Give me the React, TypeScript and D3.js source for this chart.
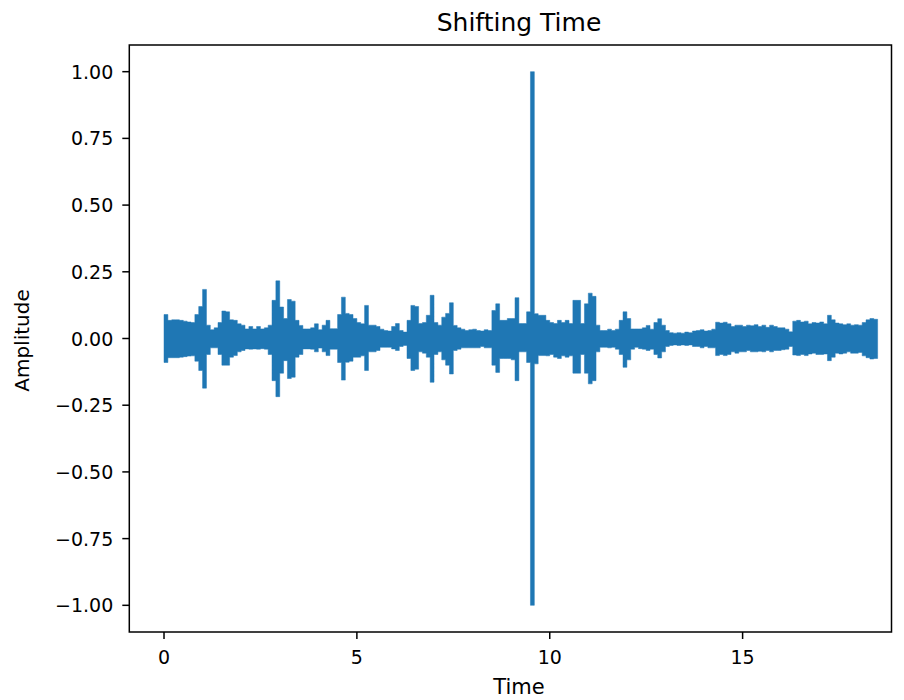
import React from "react";
import * as d3 from "d3";

// Waveform envelope, sampled every 0.1 s from t = 0 to t = 18.5 s
const sampleStep = 0.1;
const upper = [
  0.09, 0.068, 0.07, 0.07, 0.068, 0.065, 0.062, 0.06, 0.09, 0.12,
  0.184, 0.05, 0.033, 0.04, 0.06, 0.103, 0.1, 0.07, 0.068, 0.055,
  0.05, 0.036, 0.045, 0.036, 0.045, 0.036, 0.04, 0.05, 0.143, 0.216,
  0.118, 0.075, 0.146, 0.14, 0.068, 0.049, 0.036, 0.036, 0.04, 0.055,
  0.033, 0.05, 0.068, 0.037, 0.037, 0.09, 0.155, 0.094, 0.09, 0.075,
  0.06, 0.055, 0.124, 0.05, 0.05, 0.045, 0.035, 0.03, 0.028, 0.045,
  0.056, 0.03, 0.024, 0.068, 0.124, 0.12, 0.056, 0.06, 0.087, 0.162,
  0.06, 0.05, 0.08, 0.094, 0.134, 0.049, 0.04, 0.035, 0.03, 0.033,
  0.035, 0.03, 0.028, 0.033, 0.03, 0.105, 0.13, 0.068, 0.068, 0.075,
  0.075, 0.153, 0.056, 0.056, 0.1, 1.0, 0.093, 0.087, 0.087, 0.068,
  0.06, 0.056, 0.068, 0.06, 0.068, 0.056, 0.143, 0.143, 0.056, 0.13,
  0.17, 0.158, 0.05, 0.03, 0.03, 0.035, 0.03, 0.035, 0.068, 0.1,
  0.075, 0.036, 0.036, 0.036, 0.04, 0.049, 0.035, 0.06, 0.074, 0.05,
  0.03, 0.022, 0.02, 0.022, 0.02, 0.024, 0.022, 0.028, 0.03, 0.033,
  0.028, 0.03, 0.035, 0.061, 0.058, 0.061, 0.055, 0.045, 0.05, 0.05,
  0.045, 0.05, 0.048, 0.052, 0.045, 0.05, 0.042, 0.05, 0.045, 0.04,
  0.04, 0.035, 0.025, 0.065, 0.068, 0.062, 0.065, 0.055, 0.06, 0.058,
  0.062, 0.055, 0.087, 0.07, 0.058, 0.055, 0.052, 0.055, 0.05, 0.052,
  0.05, 0.06, 0.07, 0.075, 0.072, 0.06,
];
const lower = [
  -0.09, -0.072, -0.072, -0.072, -0.07, -0.068, -0.066, -0.065, -0.085, -0.12,
  -0.186, -0.06, -0.035, -0.035, -0.06, -0.1, -0.1, -0.07, -0.064, -0.05,
  -0.045, -0.039, -0.04, -0.039, -0.04, -0.038, -0.04, -0.06, -0.158, -0.218,
  -0.13, -0.083, -0.15, -0.145, -0.07, -0.06, -0.039, -0.039, -0.04, -0.05,
  -0.036, -0.05, -0.064, -0.04, -0.04, -0.09, -0.156, -0.089, -0.085, -0.07,
  -0.07, -0.065, -0.12, -0.05, -0.05, -0.045, -0.033, -0.033, -0.033, -0.039,
  -0.045, -0.03, -0.026, -0.075, -0.12, -0.115, -0.05, -0.055, -0.07, -0.164,
  -0.06, -0.05, -0.08, -0.1, -0.133, -0.045, -0.04, -0.035, -0.035, -0.035,
  -0.035, -0.035, -0.03, -0.035, -0.035, -0.1, -0.127, -0.075, -0.075, -0.075,
  -0.08, -0.158, -0.05, -0.05, -0.09, -1.0, -0.095, -0.064, -0.064, -0.065,
  -0.06, -0.07, -0.075, -0.065, -0.07, -0.065, -0.13, -0.13, -0.06, -0.13,
  -0.17, -0.158, -0.05, -0.033, -0.033, -0.035, -0.033, -0.04, -0.06, -0.108,
  -0.08, -0.04, -0.033, -0.038, -0.04, -0.045, -0.04, -0.06, -0.073, -0.05,
  -0.03, -0.026, -0.024, -0.026, -0.024, -0.026, -0.024, -0.03, -0.03, -0.035,
  -0.03, -0.035, -0.035, -0.064, -0.06, -0.064, -0.06, -0.05, -0.055, -0.05,
  -0.05, -0.045, -0.05, -0.05, -0.048, -0.05, -0.045, -0.05, -0.045, -0.045,
  -0.042, -0.04, -0.03, -0.062, -0.064, -0.06, -0.064, -0.058, -0.055, -0.06,
  -0.06, -0.058, -0.083, -0.07, -0.055, -0.058, -0.055, -0.05, -0.055, -0.055,
  -0.052, -0.065, -0.072, -0.077, -0.075, -0.06,
];

const xTicks = [0, 5, 10, 15];
const yTicks = [-1, -0.75, -0.5, -0.25, 0, 0.25, 0.5, 0.75, 1];
const titleText = "Shifting Time";
const xLabel = "Time";
const yLabel = "Amplitude";

const W = 904;
const H = 700;
const left = 129.3;
const right = 891.5;
const top = 45;
const bottom = 632;
const FONT = "'DejaVu Sans', sans-serif";
const COLOR = "#1f77b4";

export default function App() {
  const x = d3.scaleLinear().domain([-0.9, 18.86]).range([left, right]);
  const y = d3.scaleLinear().domain([-1.1, 1.1]).range([bottom, top]);
  const data = upper.map((u, i) => ({ t: i * sampleStep, hi: u, lo: lower[i] }));
  const area = d3
    .area<{ t: number; hi: number; lo: number }>()
    .x((d) => x(d.t))
    .y0((d) => y(d.lo))
    .y1((d) => y(d.hi))
    .curve(d3.curveStepAfter);
  const fmt = d3.format(".2f");
  const tickLen = 7;
  const labelCx = 519;

  return (
    <svg
      width={W}
      height={H}
      style={{ position: "absolute", left: 0, top: 0, background: "#fff" }}
      fontFamily={FONT}
    >
      <rect x={0} y={0} width={W} height={H} fill="#fff" />
      <path d={area(data) || ""} fill={COLOR} stroke={COLOR} strokeWidth={0.5} />
      <rect
        x={left}
        y={top}
        width={right - left}
        height={bottom - top}
        fill="none"
        stroke="#000"
        strokeWidth={1.5}
      />
      {xTicks.map((t) => (
        <g key={"x" + t}>
          <line x1={x(t)} x2={x(t)} y1={bottom} y2={bottom + tickLen} stroke="#000" strokeWidth={1.5} />
          <text x={x(t)} y={bottom + 32} fontSize={19} textAnchor="middle" fill="#000">
            {String(t)}
          </text>
        </g>
      ))}
      {yTicks.map((v) => (
        <g key={"y" + v}>
          <line x1={left - tickLen} x2={left} y1={y(v)} y2={y(v)} stroke="#000" strokeWidth={1.5} />
          <text x={left - 16} y={y(v) + 7} fontSize={19} textAnchor="end" fill="#000">
            {fmt(v)}
          </text>
        </g>
      ))}
      <text x={labelCx} y={31} fontSize={25} textAnchor="middle" fill="#000">
        {titleText}
      </text>
      <text x={labelCx} y={694} fontSize={21} textAnchor="middle" fill="#000">
        {xLabel}
      </text>
      <text
        transform={`translate(29, ${(top + bottom) / 2 + 2}) rotate(-90)`}
        fontSize={20}
        textAnchor="middle"
        fill="#000"
      >
        {yLabel}
      </text>
    </svg>
  );
}
